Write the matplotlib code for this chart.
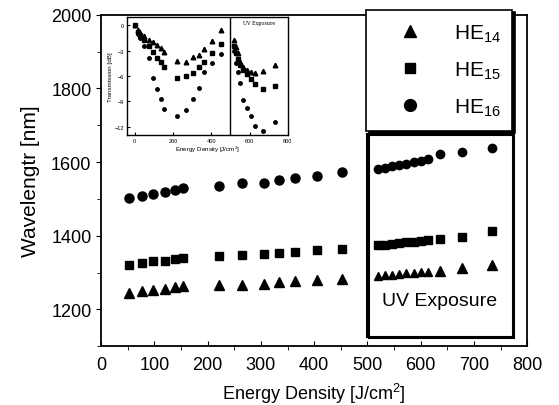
import matplotlib.pyplot as plt
from matplotlib.patches import Rectangle, Shadow
from matplotlib.lines import Line2D

plt.rcParams['font.family'] = ['Liberation Sans', 'DejaVu Sans']

# main plot, before UV exposure
energy = [53, 76, 98, 119, 139, 153, 222, 264, 306, 334, 364, 406, 452]
he14 = [1245, 1250, 1252, 1255, 1260, 1262, 1265, 1266, 1270, 1273, 1276, 1280, 1283]
he15 = [1320, 1325, 1330, 1332, 1338, 1340, 1345, 1347, 1350, 1353, 1357, 1362, 1365]
he16 = [1503, 1509, 1514, 1518, 1525, 1529, 1536, 1542, 1544, 1550, 1557, 1563, 1572]

# UV exposure, dense points
energy_uv = [520, 533, 547, 560, 573, 587, 600, 613]
he14_uv = [1290, 1292, 1294, 1296, 1298, 1300, 1301, 1302]
he15_uv = [1374, 1376, 1378, 1380, 1382, 1384, 1386, 1388]
he16_uv = [1580, 1584, 1588, 1592, 1596, 1600, 1604, 1608]
# UV exposure, last points
energy_uv2 = [637, 677, 734]
he14_uv2 = [1305, 1311, 1321]
he15_uv2 = [1392, 1397, 1412]
he16_uv2 = [1621, 1627, 1638]

# inset: transmission
ins_energy = [0, 20, 30, 50, 75, 95, 117, 140, 153, 222, 266, 306, 334, 363, 406, 450]
ins_14 = [0, -0.6, -0.9, -1.3, -1.7, -2.0, -2.3, -2.7, -3.2, -4.2, -4.4, -3.8, -3.5, -2.8, -1.9, -0.6]
ins_15 = [0, -0.8, -1.2, -1.7, -2.5, -3.2, -3.9, -4.3, -4.9, -6.2, -6.0, -5.6, -5.0, -4.3, -3.3, -2.2]
ins_16 = [0, -1.0, -1.5, -2.5, -3.9, -6.2, -7.5, -8.7, -9.9, -10.8, -10.0, -8.7, -7.4, -5.5, -4.5, -3.4]
ins_energy_uv = [520, 530, 540, 550, 565, 585, 605, 630, 670, 735]
ins_14_uv = [-1.8, -2.6, -3.3, -4.3, -5.0, -5.3, -5.5, -5.6, -5.4, -4.7]
ins_15_uv = [-2.5, -3.3, -4.0, -4.7, -5.3, -5.8, -6.4, -7.0, -7.6, -7.2]
ins_16_uv = [-3.0, -4.5, -5.5, -6.8, -8.8, -9.8, -10.8, -11.9, -12.5, -11.4]

fig = plt.figure(figsize=(5.59, 4.06), dpi=100)
ax = fig.add_axes([0.181, 0.145, 0.762, 0.816])

ax.plot(energy, he14, '^', color='k', ms=7, ls='none')
ax.plot(energy, he15, 's', color='k', ms=6, ls='none')
ax.plot(energy, he16, 'o', color='k', ms=6.5, ls='none')
ax.plot(energy_uv, he14_uv, '^', color='k', ms=5.5, ls='none')
ax.plot(energy_uv, he15_uv, 's', color='k', ms=5.5, ls='none')
ax.plot(energy_uv, he16_uv, 'o', color='k', ms=6, ls='none')
ax.plot(energy_uv2, he14_uv2, '^', color='k', ms=7, ls='none')
ax.plot(energy_uv2, he15_uv2, 's', color='k', ms=5.5, ls='none')
ax.plot(energy_uv2, he16_uv2, 'o', color='k', ms=6, ls='none')

ax.set_xlim(0, 800)
ax.set_ylim(1100, 2000)
ax.set_xticks(range(0, 801, 100))
ax.set_xticks(range(50, 800, 100), minor=True)
ax.set_yticks(range(1200, 2001, 200))
ax.set_yticks(range(1100, 2000, 200), minor=True)
ax.tick_params(axis='x', direction='in', labelsize=13, pad=7)
ax.tick_params(axis='y', direction='out', labelsize=13)
ax.tick_params(which='minor', length=3)
ax.set_xlabel('Energy Density [J/cm$^{\\mathregular{2}}$]', fontsize=13, labelpad=6)
ax.set_ylabel('Wavelengtr [nm]', fontsize=15, labelpad=8)
for s in ax.spines.values():
    s.set_linewidth(1.3)

# UV exposure box
uv = Rectangle((500, 1125), 273, 552, fill=False, ec='k', lw=1.5, zorder=3)
ax.add_patch(uv)
sh = Shadow(uv, 2, -2)
sh.set_facecolor('none')
sh.set_edgecolor('k')
sh.set_alpha(1)
sh.set_linewidth(1.5)
ax.add_patch(sh)
ax.text(636, 1225, 'UV Exposure', fontsize=14, ha='center', va='center')

# legend
handles = [Line2D([], [], marker='^', color='k', ls='none', ms=9),
           Line2D([], [], marker='s', color='k', ls='none', ms=7.5),
           Line2D([], [], marker='o', color='k', ls='none', ms=8.5)]
labels = ['HE$_{\\mathregular{14}}$', 'HE$_{\\mathregular{15}}$', 'HE$_{\\mathregular{16}}$']
leg = ax.legend(handles, labels, bbox_to_anchor=(0.622, 0.656, 0.343, 0.36),
                loc='upper left', mode='expand', borderaxespad=0, fontsize=15,
                fancybox=False, edgecolor='k', framealpha=1, handlelength=3,
                handletextpad=0.6, labelspacing=0.75, borderpad=0.6,
                shadow={'color': 'k', 'alpha': 1})
leg.get_frame().set_linewidth(1.2)

# inset
ins = fig.add_axes([0.227, 0.665, 0.288, 0.291])
ins.plot(ins_energy, ins_14, '^', color='k', ms=3.3, ls='none')
ins.plot(ins_energy, ins_15, 's', color='k', ms=2.2, ls='none')
ins.plot(ins_energy, ins_16, 'o', color='k', ms=2.5, ls='none')
ins.plot(ins_energy_uv, ins_14_uv, '^', color='k', ms=3.3, ls='none')
ins.plot(ins_energy_uv, ins_15_uv, 's', color='k', ms=2.2, ls='none')
ins.plot(ins_energy_uv, ins_16_uv, 'o', color='k', ms=2.5, ls='none')
ins.set_xlim(-40, 800)
ins.set_ylim(-13, 1)
ins.set_xticks(range(0, 801, 200))
ins.set_yticks([0, -3, -6, -9, -12])
ins.tick_params(direction='in', labelsize=4, length=2, pad=2)
ins.set_xlabel('Energy Density [J/cm$^{\\mathregular{2}}$]', fontsize=4.5, labelpad=1)
ins.set_ylabel('Transmission [dB]', fontsize=4.5, labelpad=1)
ins.axvline(500, color='k', lw=1)
ins.text(650, 0.3, 'UV Exposure', fontsize=3.5, ha='center', va='center', family='serif')
for s in ins.spines.values():
    s.set_linewidth(1)

fig.savefig('out.png', dpi=100)
